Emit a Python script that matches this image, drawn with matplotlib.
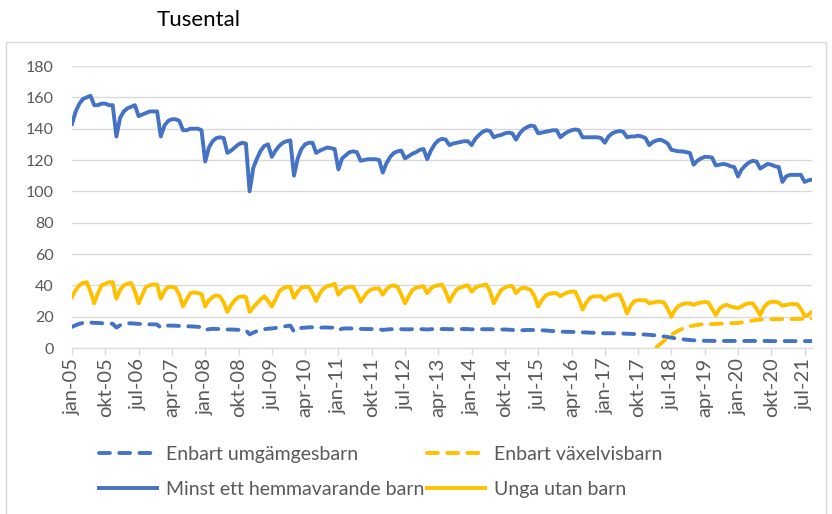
import numpy as np
import matplotlib.pyplot as plt
from matplotlib.patches import Rectangle

plt.rcParams['font.family'] = ['Lato', 'DejaVu Sans']

# monthly values (thousands), jan-05 .. sep-21
minst = [
    143, 151, 156, 159, 160, 161, 155, 155, 156, 156, 155, 155,              # 2005
    135, 147, 151, 153, 154, 155, 148, 149, 150, 151, 151, 151,              # 2006
    135, 142, 145, 146, 146, 145, 139, 139, 140, 140, 140, 139,              # 2007
    119, 128, 132, 134, 134.5, 134, 124.5, 126, 128, 130, 131, 130.5,        # 2008
    100, 115, 121, 126, 129, 130, 122, 126, 129, 131, 132, 132.5,            # 2009
    110, 121, 127, 130, 131, 131, 124.5, 126, 127, 128, 127.5, 127,          # 2010
    114, 121, 123, 125, 125.5, 125, 119.5, 120, 120.5, 120.5, 120.5, 120,    # 2011
    112, 118, 122, 124.5, 125.5, 126, 121, 122.5, 124, 125, 126.5, 127,      # 2012
    120.5, 126, 130, 132.5, 133.5, 133, 129.5, 130.5, 131, 131.5, 132, 132,  # 2013
    129.5, 133.5, 136, 138, 139, 138.5, 134.5, 135.5, 136, 137, 137.5, 137,  # 2014
    133, 137, 139.5, 141, 142, 141.5, 137, 137.5, 138, 138.5, 139, 139,      # 2015
    134.5, 136.5, 138, 139, 139.5, 139, 134.5, 134.5, 134.5, 134.5, 134.5, 134,  # 2016
    131, 135, 137, 138, 138.5, 138, 134.5, 135, 135, 135.5, 135, 134,        # 2017
    129.5, 131.5, 132.5, 133, 132, 130.5, 126.5, 126, 125.5, 125.5, 125, 124.5,  # 2018
    117, 119.5, 121, 122, 122, 121.5, 116.5, 117, 117.5, 117, 116, 115.5,    # 2019
    109.5, 114, 116.5, 118.5, 119.5, 119, 114.5, 116, 117.5, 117, 116, 115.5,  # 2020
    106, 109.5, 110.5, 110.5, 110.5, 110.5, 106, 107, 107.5,                 # 2021
]

unga = [
    32.5, 37, 40, 41.5, 42, 36, 28.5, 35, 40, 41, 42, 42,        # 2005
    31.5, 37, 40, 41, 41.5, 36, 28.5, 34, 39, 40, 40.5, 40.5,    # 2006
    31.5, 36.5, 39, 39, 38.5, 34, 26.5, 31, 35, 35.5, 35, 34.5,  # 2007
    26.5, 30.5, 32.5, 33.5, 33, 29, 23, 27.5, 30.5, 32.5, 33, 32.5,  # 2008
    23, 26, 28.5, 31, 33, 30, 26.5, 31, 36, 38, 39, 39,          # 2009
    32, 36, 38.5, 39, 39, 35, 30, 35, 38, 39.5, 40, 41,          # 2010
    34, 37, 38.5, 39, 39, 35, 29.5, 33, 36, 37.5, 38, 38,        # 2011
    34, 37.5, 39.5, 40, 39, 34, 28.5, 33, 37, 38.5, 39, 39.5,    # 2012
    35, 38, 39.5, 40, 40.5, 36, 29.5, 34, 37.5, 38.5, 39.5, 40,  # 2013
    36, 38.5, 39.5, 40, 40.5, 36, 28.5, 33, 37, 38.5, 39.5, 39.5,  # 2014
    35, 37.5, 38.5, 38, 37, 33, 26.5, 30.5, 33.5, 34.5, 35, 35,  # 2015
    33, 34.5, 35.5, 36, 36, 31, 24.5, 29, 32, 33, 33, 33,        # 2016
    30.5, 32.5, 33.5, 34, 34, 29, 22, 27, 30, 30.5, 30.5, 30.5,  # 2017
    28.5, 29, 29.5, 29.5, 29, 25, 20, 24.5, 27, 28, 28.5, 28.5,  # 2018
    27.5, 28.5, 29, 29.5, 29, 25, 21, 25, 27, 27.5, 26.5, 26,    # 2019
    25.5, 26.5, 28, 28.5, 28.5, 25, 21, 26, 28.5, 29.5, 29.5, 29,  # 2020
    27, 27.5, 28, 28, 28, 25, 20.5, 21, 23,                      # 2021
]

umg = [
    13.5, 14.5, 15.5, 16, 16.3, 16.3, 16, 16, 15.8, 15.7, 15.6, 15.5,   # 2005
    13, 14.5, 15.5, 15.8, 15.7, 15.6, 15.4, 15.3, 15.2, 15.1, 15.1, 15,  # 2006
    13, 14, 14.3, 14.3, 14.2, 14.1, 14, 13.9, 13.8, 13.7, 13.5, 13.3,    # 2007
    11.5, 12, 12.2, 12.2, 12.1, 12, 11.8, 11.8, 11.7, 11.6, 11.5, 11.4,  # 2008
    8.7, 9.8, 10.8, 11.5, 12, 12.3, 12.5, 12.8, 13.2, 13.6, 14, 14.3,    # 2009
    10.5, 12, 12.8, 13, 13.2, 13.2, 13, 13, 13.1, 13.1, 13, 13,          # 2010
    11.5, 12.3, 12.5, 12.5, 12.4, 12.3, 12.2, 12.1, 12.1, 12.1, 12.1, 12.1,  # 2011
    11.5, 11.8, 12, 12, 12, 12, 11.9, 11.9, 12, 12, 12, 12,              # 2012
    11.8, 12, 12.1, 12.1, 12.1, 12.1, 12, 12, 12.1, 12.1, 12.1, 12.1,    # 2013
    11.9, 12, 12, 12, 12, 12, 11.9, 11.9, 11.8, 11.8, 11.7, 11.6,        # 2014
    11, 11.2, 11.4, 11.5, 11.5, 11.5, 11.4, 11.3, 11.2, 11, 10.8, 10.6,  # 2015
    10.4, 10.4, 10.3, 10.3, 10.2, 10.1, 10, 9.9, 9.8, 9.7, 9.6, 9.5,     # 2016
    9.4, 9.4, 9.4, 9.3, 9.3, 9.2, 9.1, 9, 8.9, 8.8, 8.7, 8.6,            # 2017
    8.4, 8.2, 8, 7.7, 7.3, 7, 6.6, 6.2, 5.9, 5.6, 5.3, 5.1,              # 2018
    4.9, 4.8, 4.7, 4.6, 4.6, 4.5, 4.5, 4.5, 4.5, 4.5, 4.5, 4.5,          # 2019
    4.5, 4.5, 4.5, 4.5, 4.5, 4.5, 4.5, 4.5, 4.5, 4.4, 4.4, 4.4,          # 2020
    4.4, 4.4, 4.4, 4.4, 4.4, 4.4, 4.4, 4.4, 4.4,                         # 2021
]

# series starts in mar-18
vaxel = [np.nan] * 158 + [
    0.8, 2.5, 4.5, 6.5, 8.3, 10, 11.2, 12.3, 13.2, 13.8,                 # 2018
    14.3, 14.7, 15, 15.1, 15.2, 15.3, 15.4, 15.5, 15.6, 15.7, 15.8, 15.9,  # 2019
    16, 16.3, 16.7, 17.1, 17.5, 17.9, 18.1, 18.3, 18.3, 18.4, 18.4, 18.4,  # 2020
    18.4, 18.5, 18.5, 18.5, 18.6, 18.6, 18.7, 18.8, 18.9,                # 2021
]

tick_labels = ['jan-05', 'okt-05', 'jul-06', 'apr-07', 'jan-08', 'okt-08',
               'jul-09', 'apr-10', 'jan-11', 'okt-11', 'jul-12', 'apr-13',
               'jan-14', 'okt-14', 'jul-15', 'apr-16', 'jan-17', 'okt-17',
               'jul-18', 'apr-19', 'jan-20', 'okt-20', 'jul-21']

BLUE = '#4472C4'
YELLOW = '#FFC000'
GRID = '#D9D9D9'
TXT = '#595959'

x = np.arange(len(minst))

fig = plt.figure(figsize=(8.32, 5.14), dpi=100)
ax = fig.add_axes([72/832, 166/514, 740/832, 282/514])

lw = 2.8
dash = dict(linestyle=(0, (2.8, 2.4)), dash_capstyle='round')
ax.plot(x, umg, color=BLUE, lw=lw, **dash, label='Enbart umgämgesbarn')
ax.plot(x, vaxel, color=YELLOW, lw=lw, **dash, label='Enbart växelvisbarn')
ax.plot(x, minst, color=BLUE, lw=lw, solid_joinstyle='round',
        label='Minst ett hemmavarande barn')
ax.plot(x, unga, color=YELLOW, lw=lw, solid_joinstyle='round',
        label='Unga utan barn')

ax.set_xlim(0, len(minst) - 1)
ax.set_ylim(0, 180)
ax.set_yticks(np.arange(0, 181, 20))
ax.yaxis.grid(True, color=GRID, lw=1)
ax.set_axisbelow(True)
ax.tick_params(axis='y', length=0, pad=13, labelsize=11.5, labelcolor=TXT)

ax.set_xticks(np.arange(0, len(minst), 9))
ax.set_xticklabels(tick_labels, rotation=90)
ax.tick_params(axis='x', length=5, width=1, color=GRID, pad=2,
               labelsize=14.5, labelcolor=TXT)

for s in ['top', 'right', 'left']:
    ax.spines[s].set_visible(False)
ax.spines['bottom'].set_color(GRID)

# outer chart frame
fig.patches.append(Rectangle((6/832, -0.02), 820/832, 1 - 42/514 + 0.02,
                             transform=fig.transFigure, fill=False,
                             ec=GRID, lw=1))

fig.text(157/832, 1 - 20/514, 'Tusental', fontsize=16, va='center',
         color='black')

h, l = ax.get_legend_handles_labels()
order = [0, 2, 1, 3]
fig.legend([h[i] for i in order], [l[i] for i in order], ncol=2,
           loc='upper left', bbox_to_anchor=(89/832, 1 - 436/514),
           frameon=False, fontsize=14, labelcolor=TXT, borderpad=0,
           handlelength=3.0, handletextpad=0.45, columnspacing=0.15,
           labelspacing=0.95)

fig.savefig('out.png', dpi=100)
